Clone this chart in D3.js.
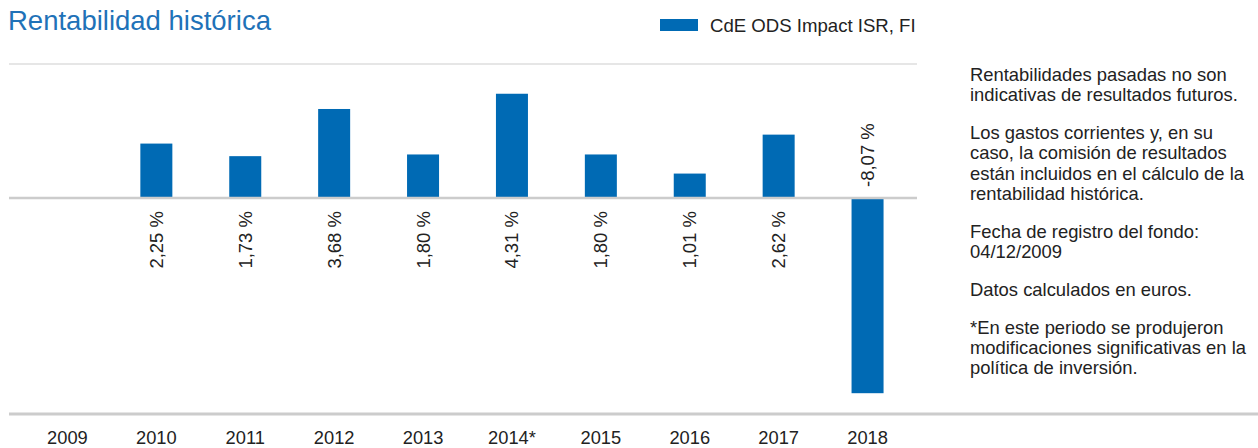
<!DOCTYPE html>
<html>
<head>
<meta charset="utf-8">
<script src="https://cdn.jsdelivr.net/npm/d3@7"></script>
<style>
body { margin:0; background:#fff; }
svg { display:block; font-family:"Liberation Sans", Arial, sans-serif; }
</style>
</head>
<body>
<div id="chart"></div>
<script>
// data
var years = ["2009","2010","2011","2012","2013","2014*","2015","2016","2017","2018"];
var values = [null, 2.25, 1.73, 3.68, 1.80, 4.31, 1.80, 1.01, 2.62, -8.07];
var seriesName = "CdE ODS Impact ISR, FI";
var notes = [
  ["Rentabilidades pasadas no son", "indicativas de resultados futuros."],
  ["Los gastos corrientes y, en su", "caso, la comisión de resultados", "están incluidos en el cálculo de la", "rentabilidad histórica."],
  ["Fecha de registro del fondo:", "04/12/2009"],
  ["Datos calculados en euros."],
  ["*En este periodo se produjeron", "modificaciones significativas en la", "política de inversión."]
];

var W = 1258, H = 448;
var blue = "#006ab4";
var textColor = "#222";

var svg = d3.select("#chart").append("svg")
  .attr("width", W).attr("height", H);

var x = d3.scaleBand()
  .domain(years)
  .range([23, 912])
  .paddingInner(0.64)
  .paddingOuter(0.32);

var y = d3.scaleLinear()
  .domain([-8.93, 5.54])
  .range([414, 64]);

// title
svg.append("text")
  .attr("x", 8).attr("y", 30)
  .style("font-size", "27.5px")
  .style("fill", "#1f72b8")
  .text("Rentabilidad histórica");

// legend
svg.append("rect")
  .attr("x", 660).attr("y", 19).attr("width", 38).attr("height", 12)
  .style("fill", blue);
svg.append("text")
  .attr("x", 710).attr("y", 32)
  .style("font-size", "18.6px")
  .style("fill", textColor)
  .text(seriesName);

// top gridline
svg.append("line")
  .attr("x1", 9).attr("x2", 917)
  .attr("y1", y(y.domain()[1])).attr("y2", y(y.domain()[1]))
  .style("stroke", "#e6e6e6").style("stroke-width", 2);

// bars
var data = years.map(function(d, i){ return {year:d, value:values[i]}; })
  .filter(function(d){ return d.value != null; });

svg.selectAll("rect.bar")
  .data(data)
  .enter().append("rect")
  .attr("class", "bar")
  .attr("x", function(d){ return x(d.year); })
  .attr("width", x.bandwidth())
  .attr("y", function(d){ return y(Math.max(0, d.value)); })
  .attr("height", function(d){ return Math.abs(y(d.value) - y(0)); })
  .style("fill", blue);

// zero line
svg.append("line")
  .attr("x1", 9).attr("x2", 917)
  .attr("y1", y(0)).attr("y2", y(0))
  .style("stroke", "#cccccc").style("stroke-width", 2.5);

// bottom line
svg.append("line")
  .attr("x1", 9).attr("x2", W)
  .attr("y1", y(y.domain()[0])).attr("y2", y(y.domain()[0]))
  .style("stroke", "#cccccc").style("stroke-width", 3);

// value labels
svg.selectAll("text.val")
  .data(data)
  .enter().append("text")
  .attr("class", "val")
  .attr("transform", function(d){
    var cx = x(d.year) + x.bandwidth()/2;
    var yy = d.value >= 0 ? y(0) + 13 : y(0) - 11;
    return "translate(" + cx + "," + yy + ") rotate(-90)";
  })
  .attr("dy", "0.35em")
  .attr("text-anchor", function(d){ return d.value >= 0 ? "end" : "start"; })
  .style("font-size", "18.5px")
  .style("fill", textColor)
  .text(function(d){ return d.value.toFixed(2).replace(".", ",") + " %"; });

// x axis labels
var xAxis = d3.axisBottom(x).tickSize(0).tickPadding(0);
var gx = svg.append("g")
  .attr("transform", "translate(0,431)")
  .call(xAxis);
gx.select(".domain").remove();
gx.selectAll("text")
  .style("font-size", "18.3px")
  .style("font-family", "\"Liberation Sans\", Arial, sans-serif")
  .style("fill", textColor);

// notes on the right
var ny = 81, lh = 20.3;
notes.forEach(function(par){
  var t = svg.append("text")
    .attr("x", 970).attr("y", ny)
    .style("font-size", "18.4px")
    .style("fill", textColor);
  par.forEach(function(line, j){
    t.append("tspan").attr("x", 970).attr("dy", j ? lh : 0).text(line);
  });
  ny += par.length * lh + 17.5;
});
</script>
</body>
</html>
